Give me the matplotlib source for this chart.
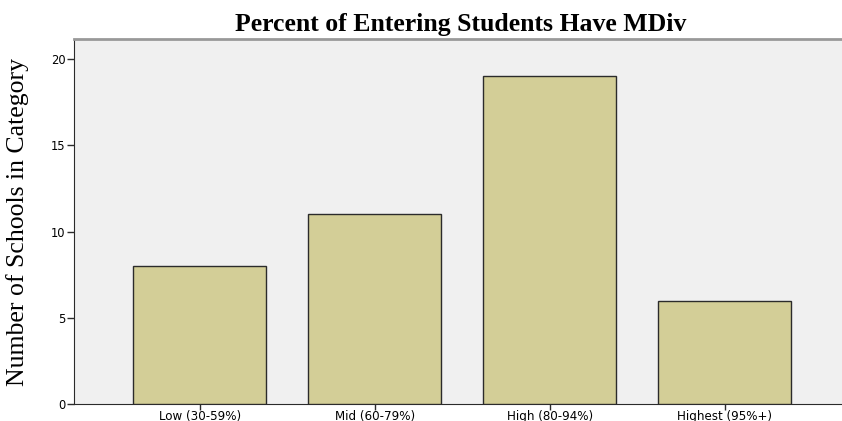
import matplotlib
matplotlib.use("Agg")
import matplotlib.pyplot as plt

categories = ["Low (30-59%)", "Mid (60-79%)", "High (80-94%)", "Highest (95%+)"]
counts = [8, 11, 19, 6]
yticks = [0, 5, 10, 15, 20]

fig = plt.figure(figsize=(8.42, 4.21), dpi=100)
W, H = 842, 421
ax = fig.add_axes([74 / W, 1 - 404 / H, (842 - 74) / W, (404 - 39) / H])
ax.set_facecolor("#F0F0F0")
x = list(range(len(categories)))
ax.bar(x, counts, width=0.76, color="#D3CE97", edgecolor="#2b2b2b", linewidth=1.0, zorder=3)
ax.set_xlim(-0.72, 3.67)
ax.set_ylim(0, 21.16)
ax.set_xticks(x)
ax.set_xticklabels(categories, fontsize=8.6, family="DejaVu Sans")
ax.set_yticks(yticks)
ax.set_yticklabels([str(t) for t in yticks], fontsize=8.3, family="DejaVu Sans")
ax.tick_params(axis="y", direction="out", length=5, width=1, color="#2b2b2b", pad=1)
ax.tick_params(axis="x", direction="out", length=4, width=1, color="#2b2b2b", pad=0)
ax.spines["right"].set_visible(False)
ax.spines["top"].set_color("#999999")
ax.spines["top"].set_linewidth(2)
ax.spines["left"].set_color("#2b2b2b")
ax.spines["bottom"].set_color("#2b2b2b")
fig.text(18 / W, 1 - 222 / H, "Number of Schools in Category", rotation=90,
         ha="center", va="center", family="Liberation Serif", fontsize=18.5)
fig.text(461 / W, 1 - 25 / H, "Percent of Entering Students Have MDiv",
         ha="center", va="center", family="Liberation Serif", fontweight="bold", fontsize=18.5)
fig.savefig("out.png", dpi=100)
